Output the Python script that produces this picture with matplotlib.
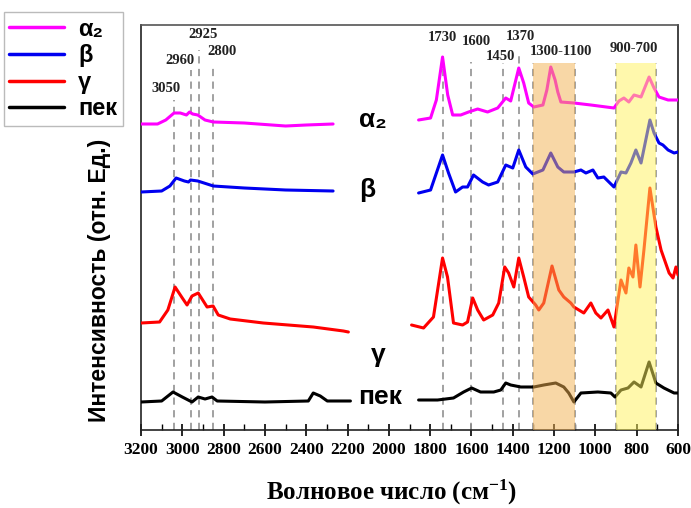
import matplotlib
matplotlib.use("Agg")
import matplotlib.pyplot as plt
from matplotlib.ticker import MultipleLocator

plt.rcParams["mathtext.fontset"] = "custom"
plt.rcParams["mathtext.rm"] = "Liberation Serif:bold"
plt.rcParams["mathtext.it"] = "Liberation Serif:bold"
plt.rcParams["mathtext.bf"] = "Liberation Serif:bold"

# ---------------- data ----------------
# alpha2 (magenta)
a2_left_wn = [3200, 3120, 3080, 3040, 3010, 2980, 2965, 2950, 2925, 2890, 2850, 2700, 2500, 2400, 2270]
a2_left_y = [306, 306, 310, 317, 317, 315, 318, 316, 315, 310, 308, 307, 304, 305, 306]
a2_right_wn = [1856, 1798, 1770, 1740, 1715, 1691, 1652, 1614, 1570, 1522, 1473, 1434, 1410, 1371, 1347,
               1323, 1298, 1254, 1235, 1216, 1195, 1182, 1167, 1104, 1022, 910, 886, 862, 838, 813,
               779, 740, 716, 692, 648, 600]
a2_right_y = [310, 312, 330, 373, 335, 315, 315, 318, 321, 318, 322, 332, 329, 362, 347,
              327, 323, 325, 340, 363, 350, 338, 328, 327, 325, 322, 329, 332, 328, 335,
              333, 353, 342, 333, 330, 330]

# beta (blue)
b_left_wn = [3200, 3100, 3060, 3030, 2990, 2970, 2960, 2925, 2880, 2850, 2700, 2500, 2270]
b_left_y = [238, 239, 244, 252, 249, 248, 250, 249, 246, 244, 242, 240, 239]
b_right_wn = [1856, 1798, 1740, 1711, 1677, 1643, 1619, 1590, 1546, 1517, 1473, 1434, 1400, 1371, 1337,
              1303, 1254, 1216, 1182, 1153, 1104, 1070, 1046, 1012, 988, 959, 910, 876, 852, 828,
              804, 779, 736, 716, 692, 673, 648, 619, 600]
b_right_y = [237, 240, 275, 257, 238, 243, 243, 255, 248, 245, 248, 265, 262, 280, 263,
             256, 260, 277, 263, 258, 258, 260, 257, 260, 252, 253, 243, 258, 257, 267,
             280, 267, 310, 297, 287, 285, 280, 277, 278]

# gamma (red)
g_left_wn = [3200, 3110, 3070, 3035, 3000, 2977, 2953, 2923, 2880, 2851, 2826, 2768, 2608, 2366, 2220, 2196]
g_left_y = [107, 108, 120, 143, 132, 125, 134, 137, 123, 124, 115, 111, 107, 103, 99, 98]
g_right_wn = [1890, 1832, 1784, 1740, 1716, 1687, 1643, 1619, 1594, 1570, 1541, 1497, 1468, 1439, 1420,
              1395, 1371, 1347, 1323, 1289, 1274, 1250, 1210, 1177, 1153, 1119, 1104, 1056, 1022, 998,
              973, 939, 910, 876, 852, 838, 818, 804, 784, 765, 736, 707, 682, 643, 624, 610, 600]
g_right_y = [105, 102, 113, 172, 153, 107, 105, 108, 132, 120, 110, 115, 127, 163, 157,
             143, 172, 153, 133, 125, 120, 127, 164, 140, 133, 127, 123, 117, 127, 117,
             112, 120, 103, 150, 137, 162, 153, 185, 143, 180, 242, 203, 180, 157, 152, 163, 155]

# pitch (black)
p_left_wn = [3200, 3100, 3045, 3000, 2953, 2923, 2890, 2856, 2831, 2600, 2390, 2366, 2332, 2298, 2186]
p_left_y = [28, 29, 38, 33, 28, 33, 31, 33, 29, 28, 29, 37, 34, 29, 29]
p_right_wn = [1856, 1764, 1687, 1638, 1599, 1556, 1492, 1458, 1434, 1410, 1361, 1298, 1250, 1192, 1153,
              1129, 1104, 1070, 988, 925, 905, 876, 842, 813, 779, 740, 707, 668, 619, 600]
p_right_y = [30, 30, 32, 38, 42, 38, 38, 40, 47, 45, 43, 43, 45, 47, 43,
             37, 28, 37, 38, 37, 33, 40, 42, 48, 43, 68, 47, 42, 37, 37]

series_names = ["α₂", "β", "γ", "пек"]
series_colors = ["#FF00FF", "#0000F0", "#FF0000", "#000000"]

# curve-label positions
label_wn = [2079, 2104, 2050, 2041]
label_y = [310, 240, 75, 33]

# dashed marker lines: position, top, label, label position
peak_wn = [3040, 2957, 2919, 2851, 1740, 1600, 1445, 1372]
peak_top = [330, 360, 380, 363, 377, 368, 367, 378]
peak_text = ["3050", "2960", "2925", "2800", "1730", "1600", "1450", "1370"]
peak_text_wn = [3079, 3011, 2899, 2807, 1740, 1575, 1458, 1361]
peak_text_y = [341, 369, 395, 378, 392, 388, 373, 393]

band_lo = [1100, 705]
band_hi = [1300, 900]
band_text = ["1300-1100", "900-700"]
band_text_wn = [1167, 813]
band_text_y = [378, 381]
band_colors = ["#F3B04F", "#FFF35A"]
band_top = 367

x_ticks = list(range(3200, 599, -200))

# ---------------- figure ----------------
W, H = 691, 508
fig = plt.figure(figsize=(W / 100, H / 100), dpi=100)
ax = fig.add_axes([141 / W, (H - 430) / H, (678 - 141) / W, (430 - 25) / H])
ax.set_xlim(3200, 600)
ax.set_ylim(0, 405)

serif = ["Liberation Serif", "DejaVu Serif"]
sans = ["Liberation Sans", "DejaVu Sans"]

segments = [
    (a2_left_wn, a2_left_y, a2_right_wn, a2_right_y),
    (b_left_wn, b_left_y, b_right_wn, b_right_y),
    (g_left_wn, g_left_y, g_right_wn, g_right_y),
    (p_left_wn, p_left_y, p_right_wn, p_right_y),
]
handles = []
for (lx, ly, rx, ry), name, col in zip(segments, series_names, series_colors):
    h, = ax.plot(lx, ly, color=col, lw=2.2, solid_joinstyle="round", solid_capstyle="round", label=name, zorder=3)
    ax.plot(rx, ry, color=col, lw=2.2, solid_joinstyle="round", solid_capstyle="round", zorder=3)
    handles.append(h)

for wn, top in zip(peak_wn, peak_top):
    ax.plot([wn, wn], [0, top], color="#9a9a9a", lw=1.3, ls=(0, (4, 3)), zorder=2)
for lo, hi in zip(band_lo, band_hi):
    for wn in (lo, hi):
        ax.plot([wn, wn], [0, band_top], color="#9a9a9a", lw=1.3, ls=(0, (4, 3)), zorder=2)
for lo, hi, c in zip(band_lo, band_hi, band_colors):
    ax.axvspan(hi, lo, ymin=0, ymax=band_top / 405, color=c, alpha=0.5, lw=0, zorder=4)

for t, x, y in zip(peak_text, peak_text_wn, peak_text_y):
    ax.text(x, y, t, ha="center", va="center", fontsize=10.5, fontweight="bold", family=serif, color="#222222")
for t, x, y in zip(band_text, band_text_wn, band_text_y):
    ax.text(x, y, t, ha="center", va="center", fontsize=10.5, fontweight="bold", family=serif, color="#222222")

for t, x, y in zip(series_names, label_wn, label_y):
    ax.text(x, y, t, ha="center", va="center", fontsize=19, fontweight="bold", family=sans, color="black")

ax.set_xticks(x_ticks)
ax.xaxis.set_minor_locator(MultipleLocator(100))
ax.set_yticks([])
ax.tick_params(axis="x", which="major", direction="inout", length=8, width=1.2, pad=5)
ax.tick_params(axis="x", which="minor", direction="in", length=4, width=1.0)
for lab in ax.get_xticklabels():
    lab.set_fontfamily(serif)
    lab.set_fontweight("bold")
    lab.set_fontsize(12.5)
for s in ax.spines.values():
    s.set_linewidth(1.2)
    s.set_color("#222222")
ax.spines["top"].set_color("#555555")

fig.text(392 / W, 1 - 492 / H, "Волновое число (см$^{-1}$)", ha="center", va="center",
         fontsize=18, fontweight="bold", family=serif)
fig.text(100 / W, 1 - 280 / H, "Интенсивность (отн. Ед.)", ha="center", va="center", rotation=90,
         fontsize=16.5, fontweight="bold", family=sans)

leg = fig.legend(handles=handles, labels=series_names, loc="upper left",
                 bbox_to_anchor=(-0.012, 1.0), bbox_transform=fig.transFigure,
                 prop={"family": sans, "weight": "bold", "size": 17},
                 handlelength=2.3, handletextpad=0.6, labelspacing=0.15,
                 borderpad=0.25, fancybox=False, framealpha=1, edgecolor="#bbbbbb")
for line in leg.get_lines():
    line.set_linewidth(2.5)

fig.savefig("out.png", dpi=100)
